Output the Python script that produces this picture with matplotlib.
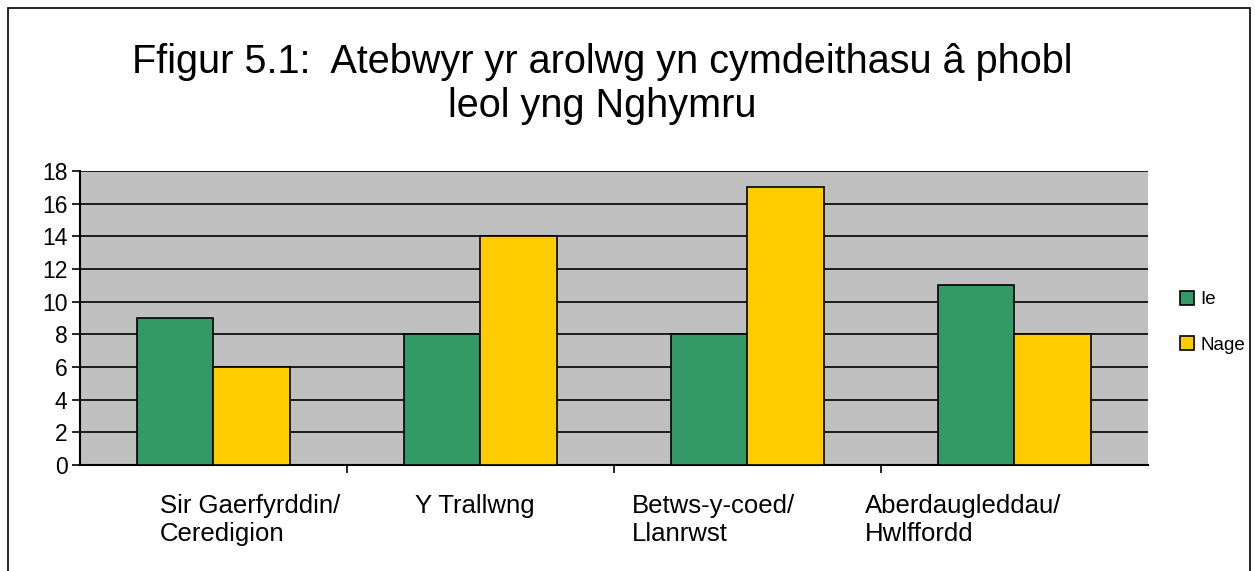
import matplotlib.pyplot as plt
from matplotlib.patches import Rectangle
import numpy as np

plt.rcParams['font.family'] = ['Liberation Sans', 'DejaVu Sans']

# --- Data ---
categories = ["Sir Gaerfyrddin/\nCeredigion", "Y Trallwng", "Betws-y-coed/\nLlanrwst",
              "Aberdaugleddau/\nHwlffordd"]
ie = [9, 8, 8, 11]
nage = [6, 14, 17, 8]
label_offsets = [-0.2, -0.245, -0.433, -0.56]  # left edge of each label relative to group centre

fig = plt.figure(figsize=(12.55, 5.71), dpi=100)
ax = fig.add_axes([0.0637, 0.1856, 0.851, 0.5149])

x = np.arange(len(categories))
w = 0.285
ax.bar(x - w / 2, ie, w, color='#339966', edgecolor='black', linewidth=1.2, label='Ie', zorder=3)
ax.bar(x + w / 2, nage, w, color='#ffcc00', edgecolor='black', linewidth=1.2, label='Nage', zorder=3)

ax.set_facecolor('#c0c0c0')
ax.set_xlim(-0.5, len(categories) - 0.5)
ax.set_ylim(0, 18)
ax.set_yticks(range(0, 19, 2))
ax.yaxis.grid(True, color='black', linewidth=1.2, zorder=0)
ax.set_axisbelow(True)
ax.tick_params(axis='y', labelsize=16.5, length=6, width=1.2, direction='out', pad=3)
ax.set_xticks(np.arange(0.5, len(categories) - 0.5, 1))
ax.set_xticklabels([])
ax.tick_params(axis='x', length=6, width=1.2)
for s in ['top', 'right']:
    ax.spines[s].set_visible(False)
for s in ['left', 'bottom']:
    ax.spines[s].set_linewidth(1.5)

for i, lab in enumerate(categories):
    ax.text(i + label_offsets[i], -1.75, lab, ha='left', va='top', fontsize=18.5,
            linespacing=1.22, transform=ax.transData)

fig.text(0.48, 0.925, "Ffigur 5.1:  Atebwyr yr arolwg yn cymdeithasu â phobl\nleol yng Nghymru",
         ha='center', va='top', fontsize=28.5, linespacing=1.2)

leg = ax.legend(loc='center left', bbox_to_anchor=(1.03, 0.485), frameon=False, fontsize=13.5,
                handlelength=0.75, handleheight=0.75, handletextpad=0.35, labelspacing=1.5,
                borderaxespad=0, borderpad=0)

fig.patches.append(Rectangle((8 / 1255, -0.05), 1242 / 1255, 1 - 8 / 571 + 0.05,
                             transform=fig.transFigure, fill=False, edgecolor='black', linewidth=1.2))

fig.savefig('out.png', dpi=100)
